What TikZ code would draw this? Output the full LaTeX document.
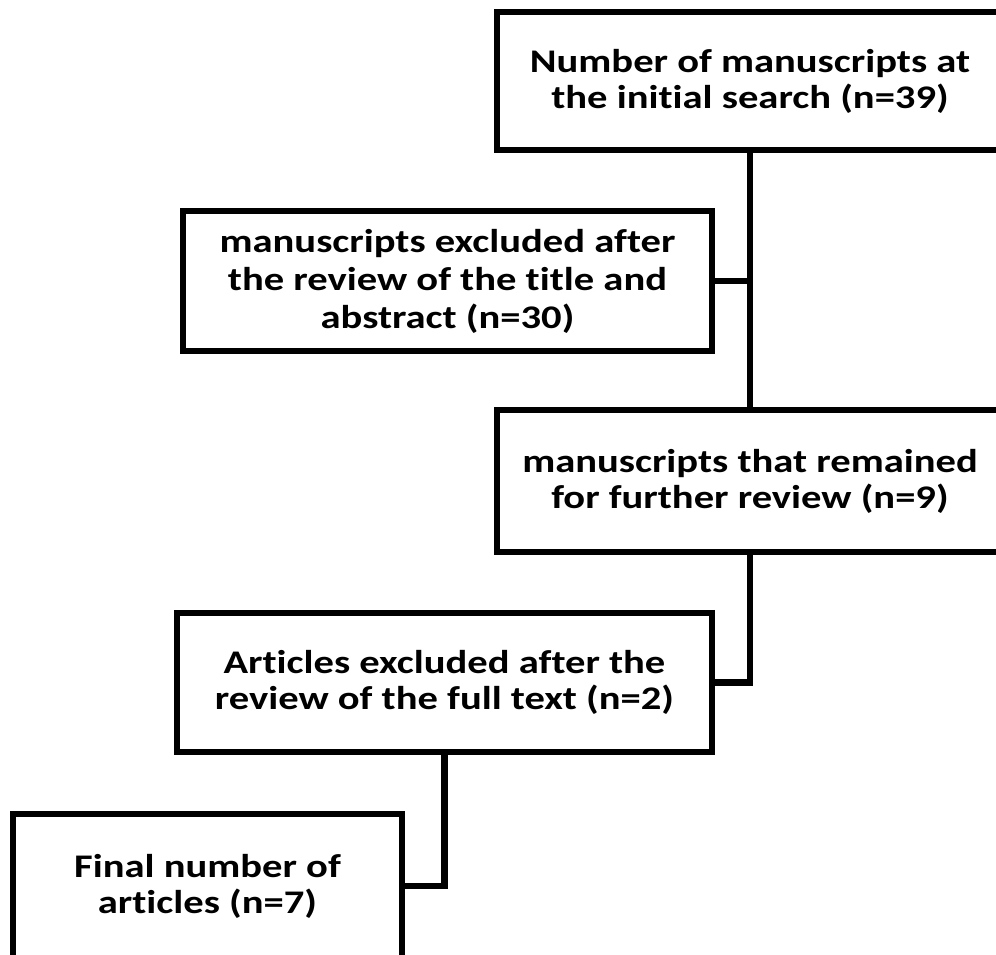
\documentclass[tikz,border=0pt]{standalone}
\usepackage{fontspec}
\setmainfont{Carlito}[FakeStretch=1.23, Ligatures=NoCommon]
\usetikzlibrary{positioning}

\begin{document}
\begin{tikzpicture}[
    x=1pt, y=-1pt,
    box/.style={
        rectangle,
        draw=black,
        line width=6.5pt,
        inner sep=0pt,
        align=center,
        font=\fontsize{33}{36}\selectfont\bfseries
    },
    link/.style={
        line width=6.5pt,
        black
    }
]
\useasboundingbox (0,0) rectangle (996,955);
\clip (0,0) rectangle (996,955);

% Boxes
\node[box, minimum width=506pt, minimum height=138pt] (search) at (750,81)
    {Number of manuscripts at\\the initial search (n=39)};
\node[box, minimum width=529pt, minimum height=140pt, font=\fontsize{33}{38}\selectfont\bfseries] (excl1) at (447.5,281)
    {manuscripts excluded after\\the review of the title and\\abstract (n=30)};
\node[box, minimum width=506pt, minimum height=142pt] (remain) at (750,481)
    {manuscripts that remained\\for further review (n=9)};
\node[box, minimum width=535pt, minimum height=139pt] (excl2) at (444.5,682.5)
    {Articles excluded after the\\review of the full text (n=2)};
\node[box, minimum width=389pt, minimum height=144pt] (final) at (207.5,886)
    {Final number of\\articles (n=7)};

% Connectors
\coordinate (j1) at (search.south |- excl1.east);
\draw[link] (search.south) -- (remain.north);
\draw[link] (excl1.east) -- (j1);
\draw[link] (remain.south) |- (excl2.east);
\draw[link] (excl2.south) |- (final.east);

\end{tikzpicture}
\end{document}
